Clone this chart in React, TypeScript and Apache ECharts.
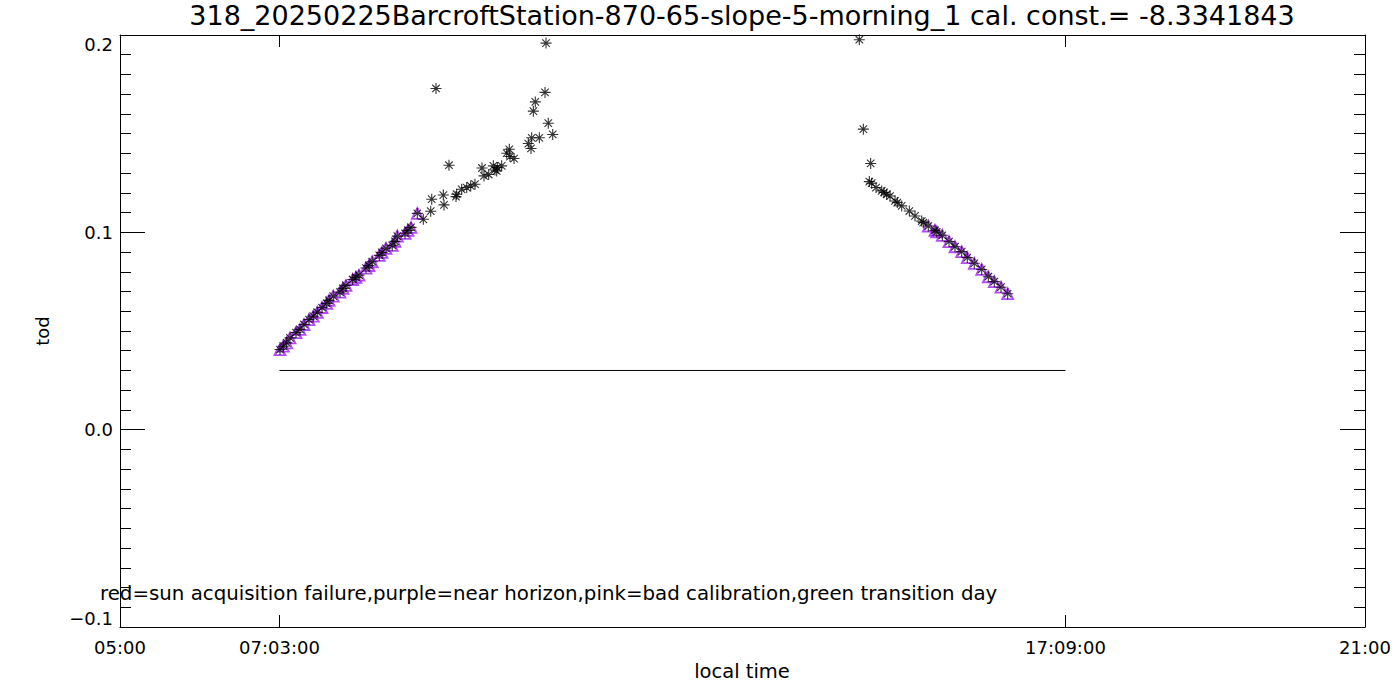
import React, { useEffect, useRef } from "react";
import * as echarts from "echarts";

// ---------- data ----------
const titleText =
  "318_20250225BarcroftStation-870-65-slope-5-morning_1 cal. const.= -8.3341843";
const noteText =
  "red=sun acquisition failure,purple=near horizon,pink=bad calibration,green transition day";
const xAxisName = "local time";
const yAxisName = "tod";

const xTickValues = [5, 7.05, 17.15, 21];
const xTickLabels = ["05:00", "07:03:00", "17:09:00", "21:00"];
const yTickValues = [-0.1, 0.0, 0.1, 0.2];
const yTickLabels = ["\u22120.1", "0.0", "0.1", "0.2"];

// morning (local time in decimal hours, tod)
const amHours = [
  7.056, 7.099, 7.142, 7.185, 7.262, 7.313, 7.365, 7.429, 7.484, 7.536, 7.596,
  7.656, 7.686, 7.741, 7.827, 7.866, 7.904, 7.99, 8.033, 8.071, 8.161, 8.2,
  8.242, 8.332, 8.367, 8.418, 8.499, 8.534, 8.564, 8.663, 8.701, 8.74, 8.821,
  8.898, 8.993, 9.006, 9.061, 9.155, 9.164, 9.228, 9.318, 9.327, 9.391, 9.456,
  9.507, 9.562, 9.652, 9.678, 9.738, 9.798, 9.819, 9.841, 9.849, 9.905, 9.97,
  10.003, 10.012, 10.064, 10.247, 10.282, 10.291, 10.312, 10.337, 10.389,
  10.462, 10.475, 10.504, 10.561,
];
const amTod = [
  0.0406, 0.0423, 0.044, 0.0465, 0.0492, 0.0508, 0.0533, 0.0558, 0.0575, 0.0595,
  0.0619, 0.064, 0.0655, 0.0677, 0.0697, 0.0716, 0.0731, 0.0761, 0.0772, 0.0783,
  0.0819, 0.0832, 0.0851, 0.0883, 0.0898, 0.0919, 0.0934, 0.0954, 0.0981,
  0.0995, 0.101, 0.1025, 0.1096, 0.1066, 0.1107, 0.1168, 0.1729, 0.1189,
  0.1139, 0.134, 0.1181, 0.1193, 0.1218, 0.1227, 0.1235, 0.1244, 0.1326,
  0.1286, 0.1293, 0.1337, 0.1316, 0.1311, 0.1328, 0.1337, 0.1401, 0.1421,
  0.1384, 0.1374, 0.145, 0.1425, 0.1479, 0.1614, 0.1661, 0.1479, 0.1709,
  0.1959, 0.1553, 0.1496,
];
// 1 = near horizon (purple)
const amNearHorizon = [
  1, 1, 1, 1, 1, 1, 1, 1, 1, 1, 1, 1, 1, 1, 1, 1, 1, 1, 1, 1, 1, 1, 1, 1, 1, 1,
  1, 1, 1, 1, 1, 1, 1, 0, 0, 0, 0, 0, 0, 0, 0, 0, 0, 0, 0, 0, 0, 0, 0, 0, 0, 0,
  0, 0, 0, 0, 0, 0, 0, 0, 0, 0, 0, 0, 0, 0, 0, 0,
];

// afternoon
const pmHours = [
  14.501, 14.553, 14.63, 14.647, 14.66, 14.716, 14.789, 14.818, 14.853, 14.896,
  14.96, 14.989, 15.046, 15.144, 15.217, 15.303, 15.323, 15.388, 15.474, 15.496,
  15.568, 15.654, 15.731, 15.817, 15.889, 15.979, 16.074, 16.159, 16.236,
  16.322, 16.408,
];
const pmTod = [
  0.1976, 0.1523, 0.1257, 0.1349, 0.1249, 0.1227, 0.121, 0.1202, 0.1193, 0.1184,
  0.1159, 0.1151, 0.1134, 0.1108, 0.1083, 0.1057, 0.1049, 0.1032, 0.101, 0.1002,
  0.0985, 0.0953, 0.0927, 0.0902, 0.0872, 0.0843, 0.0812, 0.0775, 0.075,
  0.0722, 0.0689,
];
const pmNearHorizon = [
  0, 0, 0, 0, 0, 0, 0, 0, 0, 0, 0, 0, 0, 0, 0, 0, 0, 1, 1, 1, 1, 1, 1, 1, 1, 1,
  1, 1, 1, 1, 1,
];

// reference line
const refLineX = [7.05, 17.15];
const refLineY = [0.03, 0.03];

// ---------- chart ----------
const FONT = "DejaVu Sans";
const PURPLE = "#a020f0";
const ASTERISK =
  "path://M5,0L5,10M0,5L10,5M1.6,1.6L8.4,8.4M1.6,8.4L8.4,1.6";

const pairs = (xs: number[], ys: number[]) => xs.map((x, i) => [x, ys[i]]);
const flagged = (xs: number[], ys: number[], f: number[]) =>
  xs.map((x, i) => [x, ys[i]]).filter((_, i) => f[i] === 1);

function xLabel(v: number): string {
  const i = xTickValues.findIndex((t) => Math.abs(t - v) < 1e-6);
  return i >= 0 ? xTickLabels[i] : "";
}
function yLabel(v: number): string {
  const i = yTickValues.findIndex((t) => Math.abs(t - v) < 1e-6);
  return i >= 0 ? yTickLabels[i] : "";
}

function buildOption(): any {
  const axisLine = { show: true, onZero: false, lineStyle: { color: "#000", width: 1 } };
  const xBase = {
    type: "value",
    min: 5,
    max: 21,
    axisLine,
    splitLine: { show: false },
    axisTick: {
      show: true,
      inside: true,
      length: 12,
      customValues: xTickValues,
      lineStyle: { color: "#000", width: 1 },
    },
  };
  const yBase = {
    type: "value",
    min: -0.1,
    max: 0.2,
    interval: 0.1,
    axisLine,
    splitLine: { show: false },
    minorSplitLine: { show: false },
    axisTick: { show: true, inside: true, length: 25, lineStyle: { color: "#000", width: 1 } },
    minorTick: { show: true, splitNumber: 10, length: 11, lineStyle: { color: "#000", width: 1 } },
  };
  return {
    animation: false,
    backgroundColor: "#fff",
    grid: { left: 120, right: 35, top: 35, bottom: 73, containLabel: false },
    xAxis: [
      {
        ...xBase,
        position: "bottom",
        axisLabel: {
          show: true,
          customValues: xTickValues,
          formatter: xLabel,
          margin: 11,
          color: "#000",
          fontFamily: FONT,
          fontSize: 18,
        },
      },
      { ...xBase, position: "top", axisLabel: { show: false } },
    ],
    yAxis: [
      {
        ...yBase,
        position: "left",
        axisLabel: {
          show: true,
          formatter: yLabel,
          margin: 7,
          color: "#000",
          fontFamily: FONT,
          fontSize: 18,
          verticalAlignMinLabel: "bottom",
          verticalAlignMaxLabel: "top",
        },
      },
      { ...yBase, position: "right", axisLabel: { show: false } },
    ],
    graphic: [
      {
        type: "text",
        x: 742,
        y: 15,
        silent: true,
        style: {
          text: titleText,
          fill: "#000",
          fontFamily: FONT,
          fontSize: 27,
          align: "center",
          verticalAlign: "middle",
        },
      },
      {
        type: "text",
        x: 100,
        y: 593,
        silent: true,
        z: 100,
        style: {
          text: noteText,
          fill: "#000",
          fontFamily: FONT,
          fontSize: 19.8,
          align: "left",
          verticalAlign: "middle",
        },
      },
      {
        type: "text",
        x: 742,
        y: 671,
        silent: true,
        style: {
          text: xAxisName,
          fill: "#000",
          fontFamily: FONT,
          fontSize: 19.5,
          align: "center",
          verticalAlign: "middle",
        },
      },
      {
        type: "text",
        x: 42,
        y: 331,
        rotation: Math.PI / 2,
        silent: true,
        style: {
          text: yAxisName,
          fill: "#000",
          fontFamily: FONT,
          fontSize: 18,
          align: "center",
          verticalAlign: "middle",
        },
      },
    ],
    series: [
      {
        type: "line",
        data: pairs(refLineX, refLineY),
        symbol: "none",
        silent: true,
        lineStyle: { color: "#000", width: 1 },
      },
      {
        type: "scatter",
        data: [...flagged(amHours, amTod, amNearHorizon), ...flagged(pmHours, pmTod, pmNearHorizon)],
        symbol: "triangle",
        symbolSize: 11,
        silent: true,
        itemStyle: { color: "rgba(0,0,0,0)", borderColor: PURPLE, borderWidth: 1.8 },
      },
      {
        type: "scatter",
        data: [...pairs(amHours, amTod), ...pairs(pmHours, pmTod)],
        symbol: ASTERISK,
        symbolSize: 11,
        silent: true,
        itemStyle: { color: "rgba(0,0,0,0)", borderColor: "#000", borderWidth: 1.1 },
      },
    ],
  };
}

export default function App() {
  const ref = useRef<HTMLDivElement>(null);
  useEffect(() => {
    document.body.style.margin = "0";
    const chart = echarts.init(ref.current as HTMLDivElement, null, { renderer: "svg" });
    chart.setOption(buildOption());
    return () => chart.dispose();
  }, []);
  return <div ref={ref} style={{ width: 1400, height: 700 }} />;
}
